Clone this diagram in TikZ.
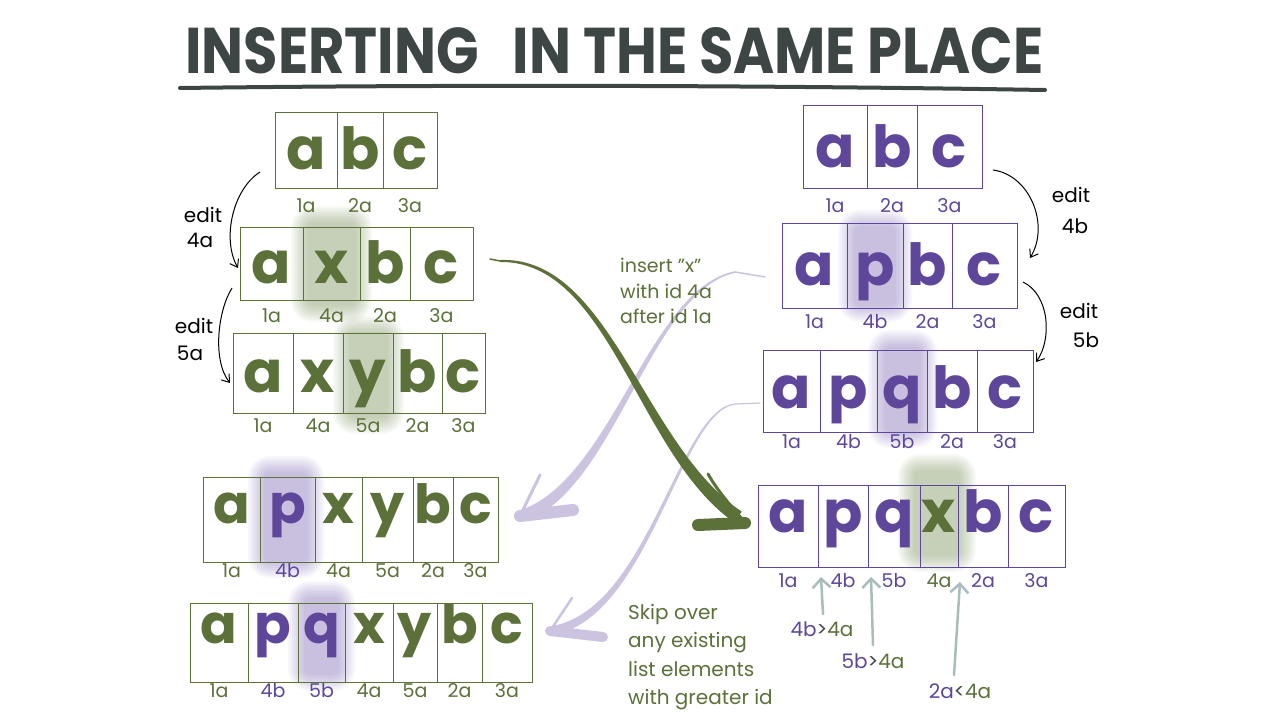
\documentclass[tikz,border=0pt]{standalone}
\usepackage{fontspec}
\setmainfont{Poppins}
\usepackage{graphicx}
\usetikzlibrary{arrows.meta}
\definecolor{grn}{HTML}{5B7139}
\definecolor{pur}{HTML}{5E479A}
\definecolor{lpur}{HTML}{CBC3DF}
\definecolor{gry}{HTML}{A9BDBB}
\definecolor{ttl}{HTML}{3E4545}
\definecolor{glowg}{HTML}{6F8A4E}
\definecolor{glowp}{HTML}{7A63B5}
\newcommand\glow[5]{%
  \foreach \e in {0,2,...,16}{\fill[#1, opacity=0.05, rounded corners={6pt+\e pt}] ({#2-\e+4},{#3-\e+4}) rectangle ({#4+\e-4},{#5+\e-4});}}
\newcommand\listbox[8]{%
  \foreach \xl/\xr/\ch/\cc/\lab/\lc [count=\k] in {#8}{%
    \draw[#6, line width=1pt] (\xl,#2) rectangle (\xr,#3);
    \node[big, font=\fontsize{#7}{#7}\selectfont\bfseries, text=\cc] (#1c\k) at ({(\xl+\xr)/2},#4) {\ch};
    \node[lbl, text=\lc] (#1l\k) at ({(\xl+\xr)/2},#5) {\lab};
  }}
\begin{document}
\begin{tikzpicture}[x=1pt,y=-1pt,
  big/.style={anchor=base, inner sep=0},
  lbl/.style={anchor=base, inner sep=0, font=\fontsize{19}{19}\selectfont},
  note/.style={anchor=base west, inner sep=0, font=\fontsize{19}{19}\selectfont, text=grn},
  edt/.style={anchor=base, inner sep=0, font=\fontsize{20}{20}\selectfont, text=black},
  gnote/.style={anchor=base, inner sep=0, font=\fontsize{20}{20}\selectfont},
  editarrow/.style={black, line width=1pt, -{Straight Barb[length=7pt,width=10pt]}},
  grayarrow/.style={gry, line width=2.5pt, line cap=round, -{Straight Barb[length=9pt,width=18pt]}},
  fat/.style={line cap=round, line join=round}]
\fill[white] (0,0) rectangle (1280,720);
\useasboundingbox (0,0) rectangle (1280,720);
% title
\node[anchor=north west, inner sep=0, text=ttl] (title) at (185,27) {\resizebox{858pt}{46pt}{\bfseries INSERTING\hspace{0.4em} IN THE SAME PLACE}};
\draw[ttl, line width=4pt, line cap=round] (180,88) .. controls (500,84) and (800,86) .. (1045,90);
% glows
\glow{glowg}{303}{218}{360}{310}
\glow{glowg}{345}{328}{392}{422}
\glow{glowp}{850}{222}{900}{310}
\glow{glowp}{880}{342}{925}{436}
\glow{glowp}{260}{468}{312}{566}
\glow{glowp}{300}{593}{343}{679}
\glow{glowg}{910}{466}{964}{560}
% light purple arrow 1
\coordinate (lp1s) at (765,277);
\coordinate (lp1a) at (735,272);
\coordinate (lp1t) at (520,516);
\draw[lpur, fat, line width=1.5pt] (lp1s) -- (lp1a);
\fill[lpur] (735,271.2) .. controls (649.6,288) and (613.2,475.3) .. (522.8,509.4)
   -- (527.2,520.6) .. controls (616.8,484.7) and (650.4,292) .. (735,272.8) -- cycle;
\draw[lpur, fat, line width=3pt] (540,475) -- (lp1t);
\draw[lpur, fat, line width=12pt] (lp1t) -- (573,510);
% light purple arrow 2
\coordinate (lp2s) at (760,403);
\coordinate (lp2a) at (735,404);
\coordinate (lp2t) at (550,631);
\draw[lpur, fat, line width=1.2pt] (lp2s) -- (lp2a);
\fill[lpur] (735,403.4) .. controls (679,408.8) and (649.3,606.6) .. (554.1,625.6)
   -- (555.9,634.4) .. controls (650.7,613.4) and (681,411.2) .. (735,404.6) -- cycle;
\draw[lpur, fat, line width=2.5pt] (572,598) -- (lp2t);
\draw[lpur, fat, line width=10pt] (lp2t) -- (603,637);
% big green arrow
\coordinate (gs) at (490,259);
\coordinate (ga) at (500,261);
\coordinate (gt) at (745,523);
\draw[grn, fat, line width=1.5pt] (gs) -- (ga);
\fill[grn] (500,260) .. controls (610,255.5) and (643.1,445.5) .. (741.7,511.6)
   -- (734.3,522.4) .. controls (636.9,454.5) and (610,260.5) .. (500,262) -- cycle;
\draw[grn, fat, line width=8pt] (733,516) -- (gt);
\draw[grn, fat, line width=3pt] (708,474) .. controls (720,495) and (735,510) .. (gt);
\draw[grn, fat, line width=12pt] (698,525) -- (gt);
% boxes
\listbox{L1}{112}{188}{169}{212}{grn}{58}{275/337/a/grn/1a/grn, 337/383/b/grn/2a/grn, 383/437/c/grn/3a/grn}
\listbox{L2}{227}{300}{283}{322}{grn}{58}{240/303/a/grn/1a/grn, 303/360/x/grn/4a/grn, 360/410/b/grn/2a/grn, 410/473/c/grn/3a/grn}
\listbox{L3}{333}{413}{392}{432}{grn}{58}{233/293/a/grn/1a/grn, 293/343/x/grn/4a/grn, 343/393/y/grn/5a/grn, 393/442/b/grn/2a/grn, 442/485/c/grn/3a/grn}
\listbox{R1}{105}{188}{167}{212}{pur}{58}{803/867/a/pur/1a/pur, 867/917/b/pur/2a/pur, 917/982/c/pur/3a/pur}
\listbox{R2}{223}{308}{285}{328}{pur}{58}{782/847/a/pur/1a/pur, 847/903/p/pur/4b/pur, 903/952/b/pur/2a/pur, 952/1017/c/pur/3a/pur}
\listbox{R3}{350}{432}{408}{448}{pur}{58}{763/820/a/pur/1a/pur, 820/877/p/pur/4b/pur, 877/927/q/pur/5b/pur, 927/977/b/pur/2a/pur, 977/1033/c/pur/3a/pur}
\listbox{BL1}{477}{562}{523}{577}{grn}{54}{203/260/a/grn/1a/grn, 260/315/p/pur/4b/pur, 315/362/x/grn/4a/grn, 362/413/y/grn/5a/grn, 413/453/b/grn/2a/grn, 453/498/c/grn/3a/grn}
\listbox{BL2}{603}{682}{643}{697}{grn}{54}{190/248/a/grn/1a/grn, 248/298/p/pur/4b/pur, 298/345/q/pur/5b/pur, 345/393/x/grn/4a/grn, 393/437/y/grn/5a/grn, 437/482/b/grn/2a/grn, 482/532/c/grn/3a/grn}
\listbox{BR}{485}{567}{532}{587}{pur}{58}{758/818/a/pur/1a/pur, 818/868/p/pur/4b/pur, 868/920/q/pur/5b/pur, 920/958/x/grn/4a/grn, 958/1008/b/pur/2a/pur, 1008/1065/c/pur/3a/pur}
% edit arrows
\coordinate (e1s) at (260,172); \coordinate (e1t) at (238,268);
\draw[editarrow] (e1s) .. controls (232,190) and (222,240) .. (e1t);
\node[edt] (e1a) at (203,222) {edit};
\node[edt] (e1b) at (200,247) {4a};
\coordinate (e2s) at (232,288); \coordinate (e2t) at (230,383);
\draw[editarrow] (e2s) .. controls (218,310) and (212,360) .. (e2t);
\node[edt] (e2a) at (194,333) {edit};
\node[edt] (e2b) at (190,360) {5a};
\coordinate (e3s) at (993,170); \coordinate (e3t) at (1030,258);
\draw[editarrow] (e3s) .. controls (1030,175) and (1050,225) .. (e3t);
\node[edt] (e3a) at (1071,202) {edit};
\node[edt] (e3b) at (1075,233) {4b};
\coordinate (e4s) at (1023,282); \coordinate (e4t) at (1036,362);
\draw[editarrow] (e4s) .. controls (1050,295) and (1052,340) .. (e4t);
\node[edt] (e4a) at (1079,318) {edit};
\node[edt] (e4b) at (1086,347) {5b};
% notes
\node[note] (n1) at (620,272) {insert "x"};
\node[note] (n2) at (620,298) {with id 4a};
\node[note] (n3) at (620,323) {after id 1a};
\node[note, font=\fontsize{20}{20}\selectfont] (s1) at (628,619) {Skip over};
\node[note, font=\fontsize{20}{20}\selectfont] (s2) at (628,647) {any existing};
\node[note, font=\fontsize{20}{20}\selectfont] (s3) at (628,676) {list elements};
\node[note, font=\fontsize{20}{20}\selectfont] (s4) at (628,704) {with greater id};
% comparisons
\node[gnote] (g1) at (822,636) {\textcolor{pur}{4b}\textcolor{ttl}{>}\textcolor{grn}{4a}};
\node[gnote] (g2) at (873,668) {\textcolor{pur}{5b}\textcolor{ttl}{>}\textcolor{grn}{4a}};
\node[gnote] (g3) at (960,698) {\textcolor{pur}{2a}\textcolor{ttl}{<}\textcolor{grn}{4a}};
\coordinate (g1t) at (821,577);
\coordinate (g2t) at (871,577);
\coordinate (g3t) at (960,582);
\draw[grayarrow] (823,614) -- (g1t);
\draw[grayarrow] (873,645) -- (g2t);
\draw[grayarrow] (954,675) -- (g3t);
\end{tikzpicture}
\end{document}
